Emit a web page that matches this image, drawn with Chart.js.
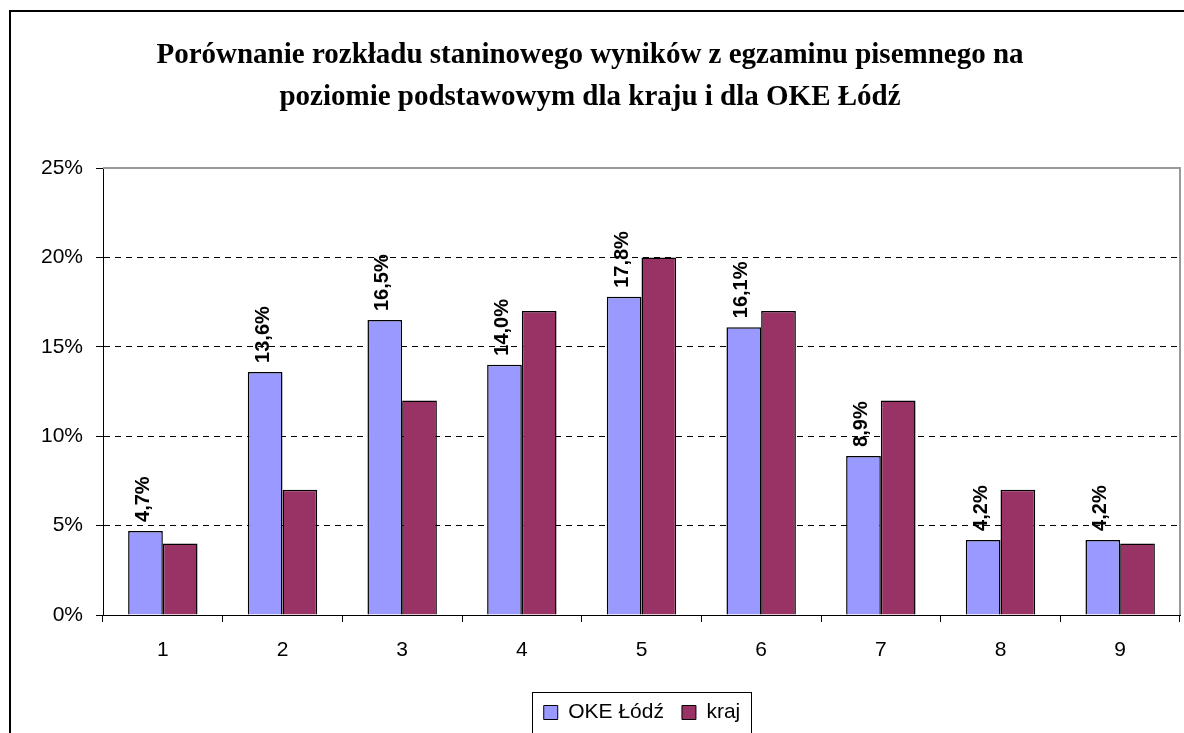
<!DOCTYPE html>
<html>
<head>
<meta charset="utf-8">
<script src="https://cdn.jsdelivr.net/npm/chart.js@4/dist/chart.umd.min.js"></script>
<style>
  html, body { margin: 0; padding: 0; background: #fff; }
  #wrap { width: 1184px; height: 733px; position: relative; }
</style>
</head>
<body>
<div id="wrap"><canvas id="c" width="1184" height="733"></canvas></div>
<script>
const categories = ['1', '2', '3', '4', '5', '6', '7', '8', '9'];
const okeLodz = [4.7, 13.6, 16.5, 14.0, 17.8, 16.1, 8.9, 4.2, 4.2];
const kraj = [4.0, 7.0, 12.0, 17.0, 20.0, 17.0, 12.0, 7.0, 4.0];
const seriesNames = ['OKE Łódź', 'kraj'];
const titleLines = ['Porównanie rozkładu staninowego wyników z egzaminu pisemnego na', 'poziomie podstawowym dla kraju i dla OKE Łódź'];

const fmt = v => v.toFixed(1).replace('.', ',') + '%';

const frame = {
  id: 'frame',
  afterLayout(chart) {
    const lg = chart.legend;
    const a = chart.chartArea;
    if (lg) {
      const off = Math.round((a.left + a.right) / 2 - (lg.left + lg.right) / 2);
      lg.left += off;
      lg.right += off;
    }
  },
  beforeDraw(chart) {
    const ctx = chart.ctx;
    ctx.save();
    ctx.fillStyle = '#fff';
    ctx.fillRect(0, 0, chart.width, chart.height);
    ctx.strokeStyle = '#000';
    ctx.lineWidth = 2;
    ctx.strokeRect(10, 11, chart.width + 20, chart.height + 20);
    ctx.restore();
  },
  afterDatasetsDraw(chart) {
    const ctx = chart.ctx;
    const a = chart.chartArea;
    ctx.save();
    ctx.strokeStyle = '#999';
    ctx.lineWidth = 2;
    ctx.beginPath();
    ctx.moveTo(a.left, a.top);
    ctx.lineTo(a.right, a.top);
    ctx.lineTo(a.right, a.bottom);
    ctx.stroke();
    const meta = chart.getDatasetMeta(0);
    ctx.fillStyle = '#000';
    ctx.font = 'bold 20px "Liberation Sans", Arial, sans-serif';
    ctx.textAlign = 'left';
    ctx.textBaseline = 'middle';
    meta.data.forEach((el, i) => {
      const v = chart.data.datasets[0].data[i];
      ctx.save();
      ctx.translate(el.x - 2, el.y - 9);
      ctx.rotate(-Math.PI / 2);
      ctx.fillText(fmt(v), 0, 0);
      ctx.restore();
    });
    ctx.restore();
  },
  afterDraw(chart) {
    const lg = chart.legend;
    if (!lg || !lg.legendHitBoxes || !lg.legendHitBoxes.length) return;
    const boxes = lg.legendHitBoxes;
    let l = Infinity, r = -Infinity;
    boxes.forEach(b => { l = Math.min(l, b.left); r = Math.max(r, b.left + b.width); });
    const cy = boxes[0].top + boxes[0].height / 2;
    const ctx = chart.ctx;
    ctx.save();
    ctx.strokeStyle = '#000';
    ctx.lineWidth = 1;
    ctx.strokeRect(Math.round(l - 12) + 0.5, Math.round(cy - 21) + 0.5, Math.round(r - l + 22), 42);
    ctx.restore();
  }
};

new Chart(document.getElementById('c'), {
  type: 'bar',
  data: {
    labels: categories,
    datasets: [
      { label: seriesNames[0], data: okeLodz, backgroundColor: '#9999FF', borderColor: '#000', borderWidth: 1.5 },
      { label: seriesNames[1], data: kraj, backgroundColor: '#993366', borderColor: '#000', borderWidth: 1.5 }
    ]
  },
  options: {
    responsive: false,
    animation: false,
    devicePixelRatio: 1,
    categoryPercentage: 0.58,
    barPercentage: 1.0,
    layout: { padding: { top: 10, right: 4, left: 0, bottom: 0 } },
    plugins: {
      title: {
        display: true,
        text: titleLines,
        color: '#000',
        font: { family: '"Liberation Serif", "Times New Roman", serif', size: 29, weight: 'bold', lineHeight: 1.45 },
        padding: { top: 24, bottom: 50 }
      },
      legend: {
        position: 'bottom',
        labels: {
          color: '#000',
          font: { family: '"Liberation Sans", Arial, sans-serif', size: 21 },
          boxWidth: 14,
          boxHeight: 14,
          padding: 18,
          generateLabels(chart) {
            return chart.data.datasets.map((ds, i) => ({
              text: ds.label, fillStyle: ds.backgroundColor, strokeStyle: '#000', lineWidth: 1, datasetIndex: i, fontColor: '#000'
            }));
          }
        }
      },
      tooltip: { enabled: false }
    },
    scales: {
      x: {
        grid: { display: true, drawOnChartArea: false, drawTicks: true, tickLength: 7, color: '#000', offset: true },
        border: { display: true, color: '#000', width: 1 },
        ticks: { color: '#000', font: { family: '"Liberation Sans", Arial, sans-serif', size: 21 }, padding: 16 },
        afterFit(s) { s.height = 69; }
      },
      y: {
        min: 0, max: 25,
        grid: { color: '#000', lineWidth: 1, tickLength: 7, drawTicks: true },
        border: { display: true, color: '#000', width: 1, dash: [6, 5] },
        ticks: { stepSize: 5, color: '#000', padding: 13, font: { family: '"Liberation Sans", Arial, sans-serif', size: 21 }, callback: v => v + '%' },
        afterFit(s) { s.width = 103; }
      }
    }
  },
  plugins: [frame]
});
</script>
</body>
</html>
